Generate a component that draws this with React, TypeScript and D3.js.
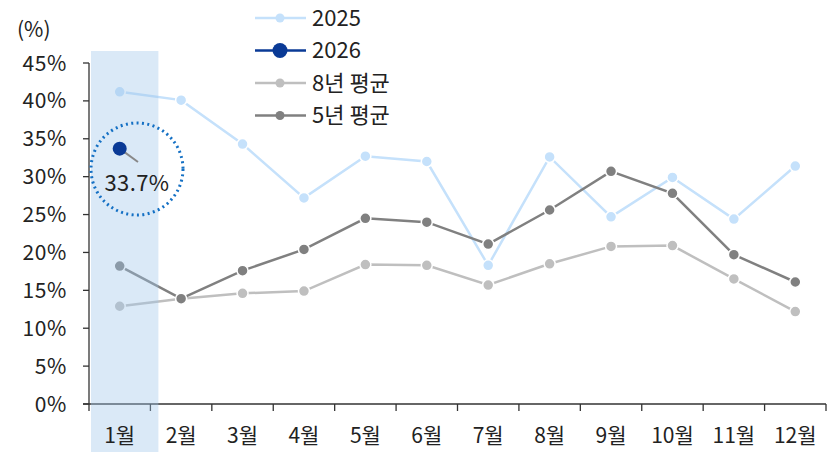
import React from 'react';
import * as d3 from 'd3';

const months = ['1월', '2월', '3월', '4월', '5월', '6월', '7월', '8월', '9월', '10월', '11월', '12월'];
const y2025 = [41.2, 40.1, 34.3, 27.2, 32.7, 32.0, 18.3, 32.6, 24.7, 29.9, 24.4, 31.4];
const y2026 = [33.7];
const avg8 = [12.9, 13.9, 14.6, 14.9, 18.4, 18.3, 15.7, 18.5, 20.8, 20.9, 16.5, 12.2];
const avg5 = [18.2, 13.9, 17.6, 20.4, 24.5, 24.0, 21.1, 25.6, 30.7, 27.8, 19.7, 16.1];
const yTicks = [0, 5, 10, 15, 20, 25, 30, 35, 40, 45];

const W = 834;
const H = 452;
const left = 89;
const right = 826;
const top = 63;
const bottom = 404;
const FONT = '"Noto Sans CJK KR", "Noto Sans", sans-serif';

const series = [
  { name: '2025', values: y2025, color: '#c5e1fb', r: 5.5, width: 2.5 },
  { name: '8년 평균', values: avg8, color: '#bfbfbf', r: 5.5, width: 2.5 },
  { name: '5년 평균', values: avg5, color: '#808080', r: 5.5, width: 2.5 },
];

const legend = [
  { name: '2025', color: '#c5e1fb', r: 4.5 },
  { name: '2026', color: '#0a3a96', r: 7.5 },
  { name: '8년 평균', color: '#bfbfbf', r: 4.5 },
  { name: '5년 평균', color: '#808080', r: 4.5 },
];

const App = () => {
  const x = d3.scaleBand<string>().domain(months).range([left, right]);
  const y = d3.scaleLinear().domain([0, 45]).range([bottom, top]);
  const cx = (i: number) => (x(months[i]) as number) + x.bandwidth() / 2;
  const line = d3
    .line<number>()
    .x((_, i) => cx(i))
    .y((v) => y(v));

  const bx = x(months[0]) as number;
  const dotX = cx(0);
  const dotY = y(y2026[0]);

  return (
    <svg width={W} height={H} style={{ position: 'absolute', left: 0, top: 0 }} fontFamily={FONT}>
      {/* y axis */}
      <line x1={left} x2={left} y1={top} y2={bottom} stroke="#333" strokeWidth={1.3} />
      {yTicks.map((t) => (
        <g key={t}>
          <line x1={left - 6} x2={left} y1={y(t)} y2={y(t)} stroke="#333" strokeWidth={1.3} />
          <text x={67} y={y(t)} dy="0.36em" textAnchor="end" fontSize={21} letterSpacing={0.6} fill="#222">
            {t}%
          </text>
        </g>
      ))}
      <text x={17} y={37} fontSize={21} fill="#222">(%)</text>

      {/* x axis */}
      <line x1={left - 6} x2={right} y1={bottom} y2={bottom} stroke="#333" strokeWidth={1.3} />
      {months.map((m) => (
        <line key={m} x1={x(m)} x2={x(m)} y1={bottom} y2={bottom + 7} stroke="#333" strokeWidth={1.3} />
      ))}
      <line x1={right} x2={right} y1={bottom} y2={bottom + 7} stroke="#333" strokeWidth={1.3} />

      {/* series */}
      {series.map((s) => (
        <g key={s.name}>
          <path d={line(s.values) || ''} fill="none" stroke={s.color} strokeWidth={s.width} />
          {s.values.map((v, i) => (
            <circle key={i} cx={cx(i)} cy={y(v)} r={s.r} fill={s.color} stroke="#fff" strokeWidth={1.5} />
          ))}
        </g>
      ))}

      {/* highlight band */}
      <rect x={bx + 2} y={51} width={x.bandwidth() + 6} height={H - 51} fill="#9ec4e9" opacity={0.38} />

      {months.map((m, i) => (
        <text key={m} x={cx(i)} y={443} textAnchor="middle" fontSize={21} fill="#222">
          {m}
        </text>
      ))}

      {/* 2026 annotation */}
      <circle cx={137} cy={169} r={46} fill="none" stroke="#1470c4" strokeWidth={3} strokeDasharray="2 3.4" />
      <line x1={dotX} y1={dotY} x2={138} y2={162} stroke="#888" strokeWidth={2} />
      <circle cx={dotX} cy={dotY} r={7} fill="#0a3a96" />
      <text x={137} y={191} textAnchor="middle" fontSize={22} letterSpacing={0.4} fill="#222">33.7%</text>

      {/* legend */}
      {legend.map((l, i) => {
        const ly = 18 + i * 32.5;
        return (
          <g key={l.name}>
            <line x1={255} x2={306} y1={ly} y2={ly} stroke={l.color} strokeWidth={2.5} />
            <circle cx={280} cy={ly} r={l.r} fill={l.color} />
            <text x={312} y={ly} dy="0.36em" fontSize={22} fill="#222">
              {l.name}
            </text>
          </g>
        );
      })}
    </svg>
  );
};

export default App;
